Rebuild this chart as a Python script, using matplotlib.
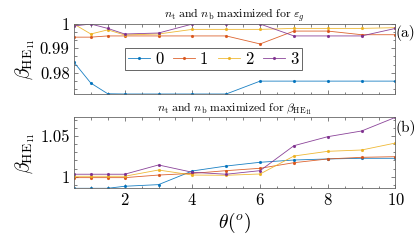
"""
Propagation constant of HE11 vs tilt angle for n_t/n_b optimisations
"""

import numpy as np
import matplotlib
matplotlib.use('Agg')
import matplotlib.pyplot as plt
from matplotlib.ticker import AutoMinorLocator, FuncFormatter

# tilt angle, degrees
theta = [0.5, 1, 1.5, 2, 3, 4, 5, 6, 7, 8, 9, 10]

# (a) n_t and n_b maximized for eps_g
beta_a_0 = [0.9843, 0.9757, 0.9713, 0.9712, 0.9712, 0.9712, 0.9712, 0.9765, 0.9765, 0.9765, 0.9765, 0.9765]
beta_a_1 = [0.9946, 0.9946, 0.9951, 0.9951, 0.9951, 0.9951, 0.9951, 0.9918, 0.9971, 0.9971, 0.9956, 0.9956]
beta_a_2 = [1.0, 0.9959, 0.9976, 0.9955, 0.9959, 0.9978, 0.9978, 0.9978, 0.9982, 0.9982, 0.9982, 0.9985]
beta_a_3 = [0.9992, 1.0, 0.9982, 0.9959, 0.9963, 1.0, 1.0, 1.0, 0.9951, 0.9951, 0.9951, 0.9982]

# (b) n_t and n_b maximized for beta_HE11
beta_b_0 = [0.9857, 0.9857, 0.9857, 0.9882, 0.9902, 1.0070, 1.0131, 1.0177, 1.0205, 1.0218, 1.0226, 1.0226]
beta_b_1 = [0.9988, 0.9988, 0.9988, 0.9988, 1.0020, 1.0040, 1.0074, 1.0103, 1.0172, 1.0218, 1.0238, 1.0246]
beta_b_2 = [1.0005, 1.0005, 1.0005, 1.0005, 1.0082, 1.0020, 1.0017, 1.0033, 1.0254, 1.0312, 1.0328, 1.0414]
beta_b_3 = [1.0030, 1.0030, 1.0030, 1.0030, 1.0144, 1.0054, 1.0030, 1.0074, 1.0381, 1.0492, 1.0562, 1.0730]

labels  = ['0', '1', '2', '3']
colors  = ['#0072BD', '#D95319', '#EDB120', '#7E2F8E']

plt.rcParams['font.family'] = 'serif'
plt.rcParams['font.serif'] = ['cmr10', 'DejaVu Serif']
plt.rcParams['mathtext.fontset'] = 'cm'
plt.rcParams['axes.formatter.use_mathtext'] = True
plt.rcParams['axes.unicode_minus'] = False

fig = plt.figure(figsize=(4.15, 2.49), dpi=100)
ax1 = fig.add_axes([0.178, 0.6225, 0.775, 0.281])
ax2 = fig.add_axes([0.178, 0.2438, 0.775, 0.285])

fmt = FuncFormatter(lambda v, p: '%g' % round(v, 4))

for ax, data in [(ax1, [beta_a_0, beta_a_1, beta_a_2, beta_a_3]),
                 (ax2, [beta_b_0, beta_b_1, beta_b_2, beta_b_3])]:
    for d, c, l in zip(data, colors, labels):
        ax.plot(theta, d, '.-', color=c, lw=0.6, ms=2.5, label=l, alpha=0.9)
    ax.set_xlim(0.5, 10)
    ymin = min(min(d) for d in data)
    ymax = max(max(d) for d in data)
    ax.set_ylim(ymin, ymax)
    ax.set_xticks([2, 4, 6, 8, 10])
    ax.xaxis.set_minor_locator(AutoMinorLocator(4))
    ax.yaxis.set_major_formatter(fmt)
    ax.tick_params(which='both', direction='in', top=True, right=True,
                   labelsize=12, width=0.5, color='0.3', pad=3)
    ax.tick_params(which='major', length=3)
    ax.tick_params(which='minor', length=1.8)
    for s in ax.spines.values():
        s.set_color('0.4')
        s.set_linewidth(0.6)
    ax.set_ylabel(r'$\beta_{\mathrm{HE}_{11}}$', fontsize=14, labelpad=2)

ax1.set_yticks([0.98, 0.99, 1.0])
ax1.yaxis.set_minor_locator(AutoMinorLocator(3))
ax1.tick_params(labelbottom=False)
ax2.set_yticks([1.0, 1.05])
ax2.yaxis.set_minor_locator(AutoMinorLocator(5))

ax1.set_title(r'$n_\mathrm{t}\ \mathrm{and}\ n_\mathrm{b}\ \mathrm{maximized\ for}\ \varepsilon_g$',
              fontsize=8.5, pad=3)
ax2.set_title(r'$n_\mathrm{t}\ \mathrm{and}\ n_\mathrm{b}\ \mathrm{maximized\ for}\ \beta_{\mathrm{HE}_{11}}$',
              fontsize=8.5, pad=3)

ax1.text(1.0, 0.87, '(a)', transform=ax1.transAxes, fontsize=11, va='center', ha='left')
ax2.text(1.0, 0.85, '(b)', transform=ax2.transAxes, fontsize=11, va='center', ha='left')

ax2.set_xlabel(r'$\theta(^o)$', fontsize=14, labelpad=2)

leg = ax1.legend(ncol=4, loc='upper left', bbox_to_anchor=(0.159, 0.653),
                 borderaxespad=0, fontsize=12, handlelength=1.3, handletextpad=0.3,
                 columnspacing=0.6, borderpad=0.2, fancybox=False, framealpha=1)
leg.get_frame().set_edgecolor('0.3')
leg.get_frame().set_linewidth(0.6)

fig.savefig('out.png', dpi=100)
